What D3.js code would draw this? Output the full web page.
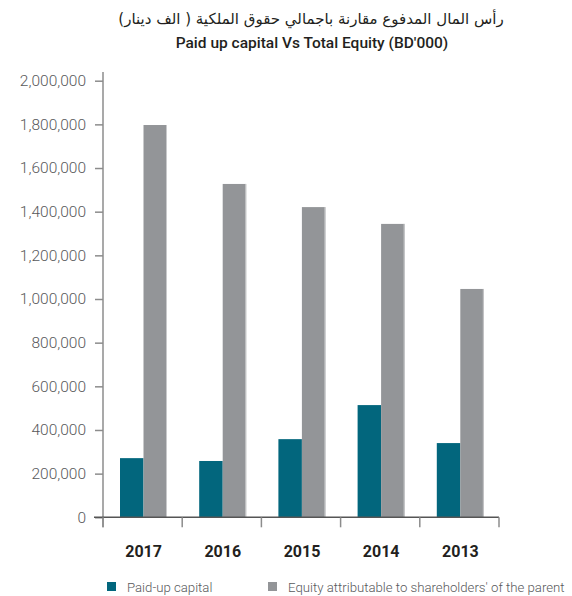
<!DOCTYPE html>
<html>
<head>
<meta charset="utf-8">
<script src="https://cdn.jsdelivr.net/npm/d3@7"></script>
<style>
  html, body { margin: 0; padding: 0; background: #fff; }
  svg { display: block; }
</style>
</head>
<body>
<svg id="chart" width="572" height="596"></svg>
<script>
// Paid-up capital vs equity attributable to shareholders, BD'000
const years = ["2017", "2016", "2015", "2014", "2013"];
const paidUpCapital = [271000, 258000, 358000, 514000, 340000];
const shareholdersEquity = [1797000, 1527000, 1421000, 1344000, 1046000];
const yTicks = [0, 200000, 400000, 600000, 800000, 1000000, 1200000, 1400000, 1600000, 1800000, 2000000];
const seriesNames = ["Paid-up capital", "Equity attributable to shareholders' of the parent"];
const titleAr = "رأس المال المدفوع مقارنة باجمالي حقوق الملكية ( الف دينار)";
const titleEn = "Paid up capital Vs Total Equity (BD'000)";

const colors = ["#02667d", "#939598"];
const axisColor = "#8c8c8c";
const textColor = "#58595b";

const svg = d3.select("#chart");
const plotLeft = 103, plotRight = 499, plotBottom = 517.3, plotTop = 80.7;

const x = d3.scaleBand().domain(years).range([plotLeft, plotRight]).padding(0);
const inner = d3.scaleBand().domain([0, 1]).range([17, 64]).padding(0);
const y = d3.scaleLinear().domain([0, 2000000]).range([plotBottom, plotTop]);

// Titles
svg.append("text")
  .attr("x", 311).attr("y", 24)
  .attr("text-anchor", "middle")
  .attr("direction", "rtl")
  .style("font-family", "'DejaVu Sans', 'Noto Sans', sans-serif")
  .style("font-size", "15px")
  .style("fill", "#231f20")
  .text(titleAr);

svg.append("text")
  .attr("x", 312).attr("y", 48)
  .attr("text-anchor", "middle")
  .style("font-family", "Roboto, sans-serif")
  .style("font-weight", 500)
  .style("font-size", "15.5px")
  .style("fill", "#231f20")
  .text(titleEn);

// Bars
const groups = svg.append("g").selectAll("g")
  .data(years.map((yr, i) => ({ yr, vals: [paidUpCapital[i], shareholdersEquity[i]] })))
  .join("g")
  .attr("transform", d => `translate(${x(d.yr)},0)`);

groups.selectAll("rect.bar")
  .data(d => d.vals.map((v, k) => ({ v, k })))
  .join("rect")
  .attr("class", "bar")
  .attr("x", d => inner(d.k))
  .attr("width", inner.bandwidth())
  .attr("y", d => y(d.v))
  .attr("height", d => y(0) - y(d.v))
  .attr("fill", d => colors[d.k]);

// light edge on the right side of the equity bars
groups.append("line")
  .attr("x1", inner(1) + inner.bandwidth() - 0.5)
  .attr("x2", inner(1) + inner.bandwidth() - 0.5)
  .attr("y1", (d) => y(d.vals[1]))
  .attr("y2", y(0))
  .attr("stroke", "#c8c9cb")
  .attr("stroke-width", 1);

// Y axis
const yAxis = svg.append("g")
  .attr("transform", `translate(${plotLeft},0)`)
  .call(d3.axisLeft(y).tickValues(yTicks).tickSize(8).tickPadding(9)
    .tickFormat(d3.format(",")));
yAxis.select(".domain").remove();
yAxis.selectAll(".tick line").attr("stroke", axisColor).attr("stroke-width", 1.5);
yAxis.selectAll(".tick text")
  .style("font-family", "Roboto, sans-serif")
  .style("font-weight", 300)
  .style("font-size", "15.5px")
  .style("fill", textColor);
yAxis.append("line")
  .attr("x1", 0).attr("x2", 0)
  .attr("y1", 72).attr("y2", plotBottom + 10)
  .attr("stroke", axisColor).attr("stroke-width", 1.5);

// X axis
const xAxis = svg.append("g").attr("transform", `translate(0,${plotBottom})`);
xAxis.append("line")
  .attr("x1", plotLeft - 9).attr("x2", plotRight)
  .attr("y1", 0).attr("y2", 0)
  .attr("stroke", "#555").attr("stroke-width", 1.5);
const bounds = years.map(d => x(d)).concat([plotRight]);
xAxis.selectAll("line.sep")
  .data(bounds)
  .join("line")
  .attr("class", "sep")
  .attr("x1", d => d).attr("x2", d => d)
  .attr("y1", 0).attr("y2", 10)
  .attr("stroke", axisColor).attr("stroke-width", 1.5);
xAxis.selectAll("text")
  .data(years)
  .join("text")
  .attr("x", d => x(d) + x.bandwidth() / 2 + 1)
  .attr("y", 40)
  .attr("text-anchor", "middle")
  .style("font-family", "Roboto, sans-serif")
  .style("font-weight", 700)
  .style("font-size", "16px")
  .style("fill", "#231f20")
  .text(d => d);

// Legend
const legendX = [107, 268];
const legend = svg.append("g").selectAll("g")
  .data(seriesNames)
  .join("g")
  .attr("transform", (d, i) => `translate(${legendX[i]},582)`);
legend.append("rect")
  .attr("width", 9).attr("height", 9)
  .attr("fill", (d, i) => colors[i]);
legend.append("text")
  .attr("x", 20).attr("y", 10)
  .style("font-family", "Roboto, sans-serif")
  .style("font-weight", 300)
  .style("font-size", "13.2px")
  .style("fill", textColor)
  .text(d => d);
</script>
</body>
</html>
